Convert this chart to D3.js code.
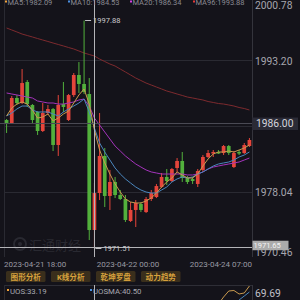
<!DOCTYPE html>
<html>
<head>
<meta charset="utf-8">
<script src="https://cdn.jsdelivr.net/npm/d3@7"></script>
<style>
html, body { margin: 0; padding: 0; background: #14131a; }
svg { display: block; }
text { font-family: "Roboto", "Noto Sans", "Noto Sans CJK SC", sans-serif; }
</style>
</head>
<body>
<script>
// K线数据 (开 高 低 收)
var opens = [1986.37, 1986.02, 1988.92, 1988.34, 1990.77, 1988.11, 1987.30, 1985.10, 1987.18, 1987.64,
  1983.48, 1988.22, 1986.37, 1989.26, 1991.58, 1990.54, 1989.38, 1973.64, 1977.92, 1982.21,
  1977.58, 1979.20, 1977.69, 1977.23, 1974.68, 1975.96, 1976.65, 1975.72, 1977.23, 1977.46,
  1978.62, 1979.78, 1979.31, 1980.82, 1981.63, 1979.66, 1979.54, 1978.97, 1980.59, 1982.09,
  1982.49, 1982.67, 1982.55, 1983.36, 1980.93, 1982.67, 1982.55, 1983.36];
var highs = [1986.49, 1989.15, 1989.26, 1992.27, 1991.00, 1988.22, 1987.41, 1988.34, 1988.11, 1987.76,
  1989.26, 1990.77, 1989.38, 1991.81, 1993.08, 1997.88, 1991.23, 1979.08, 1987.18, 1983.13,
  1980.59, 1979.78, 1978.27, 1977.69, 1976.88, 1977.11, 1976.88, 1977.46, 1978.27, 1978.97,
  1980.24, 1980.70, 1980.82, 1981.97, 1982.67, 1979.89, 1979.78, 1980.70, 1982.32, 1982.90,
  1982.90, 1982.90, 1983.48, 1983.48, 1982.78, 1982.90, 1983.71, 1984.29];
var lows = [1984.87, 1985.91, 1988.11, 1988.22, 1987.88, 1986.02, 1984.64, 1984.98, 1986.95, 1982.78,
  1982.21, 1987.30, 1986.26, 1989.03, 1989.50, 1989.38, 1972.48, 1971.51, 1977.11, 1976.30,
  1975.96, 1977.34, 1977.11, 1974.57, 1974.57, 1973.99, 1975.72, 1975.61, 1977.00, 1977.34,
  1978.50, 1978.85, 1979.20, 1980.35, 1979.20, 1978.97, 1978.97, 1978.62, 1980.35, 1981.97,
  1982.09, 1982.44, 1982.32, 1982.32, 1980.82, 1982.32, 1982.44, 1983.25];
var closes = [1986.02, 1988.92, 1988.34, 1990.65, 1988.22, 1986.37, 1985.10, 1987.18, 1987.64, 1983.48,
  1988.11, 1987.88, 1989.26, 1991.58, 1990.54, 1989.61, 1973.64, 1977.92, 1982.21, 1977.58,
  1979.20, 1977.69, 1977.23, 1974.80, 1975.96, 1976.77, 1975.96, 1977.23, 1977.92, 1978.73,
  1979.78, 1979.31, 1980.70, 1981.63, 1979.66, 1979.20, 1979.31, 1980.47, 1982.09, 1982.55,
  1982.67, 1982.49, 1983.36, 1982.55, 1982.55, 1982.49, 1983.48, 1984.06];

// 均线
var ma5 = [1986.84, 1987.76, 1988.22, 1988.46, 1988.22, 1987.53, 1986.60, 1986.72, 1987.07, 1986.26,
  1986.60, 1987.07, 1987.41, 1988.34, 1989.27, 1989.96, 1988.22, 1985.22, 1982.90, 1981.40,
  1980.12, 1978.97, 1978.04, 1977.23, 1976.88, 1976.77, 1976.77, 1977.00, 1977.35, 1977.92,
  1978.62, 1979.20, 1979.66, 1980.36, 1980.01, 1979.66, 1979.66, 1980.12, 1981.05, 1981.86,
  1982.44, 1982.67, 1982.67, 1982.79, 1982.67, 1982.90, 1983.13, 1983.48];
var ma10 = [1986.84, 1987.18, 1987.65, 1987.99, 1987.99, 1987.53, 1987.30, 1987.30, 1987.30, 1987.07,
  1986.84, 1987.30, 1987.65, 1987.99, 1988.34, 1988.80, 1987.30, 1985.45, 1983.71, 1982.67,
  1981.74, 1980.82, 1980.12, 1979.55, 1979.08, 1978.62, 1978.27, 1978.04, 1977.92, 1977.92,
  1978.27, 1978.62, 1979.20, 1979.55, 1979.78, 1979.66, 1979.78, 1980.12, 1980.36, 1980.70,
  1981.05, 1981.28, 1981.40, 1981.51, 1981.74, 1982.09, 1982.32, 1982.67];
var ma20 = [1989.50, 1989.38, 1989.27, 1989.15, 1989.03, 1988.92, 1988.57, 1988.46, 1988.34, 1988.34,
  1988.22, 1988.22, 1988.34, 1988.46, 1988.69, 1988.80, 1987.99, 1986.60, 1985.79, 1984.98,
  1984.17, 1983.36, 1982.79, 1982.21, 1981.74, 1981.28, 1980.93, 1980.59, 1980.36, 1980.24,
  1980.12, 1980.12, 1980.12, 1980.12, 1980.12, 1980.01, 1980.01, 1980.12, 1980.36, 1980.70,
  1980.93, 1981.05, 1981.17, 1981.28, 1981.40, 1981.51, 1981.74, 1981.97];
var ma96 = [1997.02, 1996.79, 1996.56, 1996.32, 1996.15, 1995.98, 1995.80, 1995.63, 1995.46, 1995.28,
  1995.11, 1994.94, 1994.76, 1994.59, 1994.36, 1994.13, 1993.95, 1993.78, 1993.43, 1993.14,
  1992.85, 1992.62, 1992.27, 1991.93, 1991.58, 1991.23, 1990.94, 1990.65, 1990.42, 1990.19,
  1989.96, 1989.73, 1989.56, 1989.38, 1989.21, 1989.03, 1988.92, 1988.80, 1988.69, 1988.51,
  1988.40, 1988.28, 1988.22, 1988.11, 1987.99, 1987.82, 1987.70, 1987.53];

// 副图 UOS (只看得到最后几根)
var uosTail = [53.96, 59.75, 64.72, 65.14, 62.24, 63.07, 68.86];
var uosmaTail = [52.30, 57.27, 60.58, 63.89];

var priceTicks = [2000.78, 1993.20, 1985.62, 1978.04, 1970.46];
var timeLabels = ["2023-04-21 18:00", "2023-04-22 00:00", "2023-04-24 07:00"];
var lastPrice = 1986.00;
var crossPrice = 1971.65;
var crossIndex = 17;
var maLegend = [["MA5:1982.09", "#f2a33a"], ["MA10:1984.53", "#4a90e2"], ["MA20:1986.34", "#d63ee0"], ["MA96:1993.88", "#e53935"]];
var uosLegend = [["UOS:33.19", "#f2a33a"], ["UOSMA:40.50", "#4a90e2"]];
var buttons = ["图形分析", "K线分析", "乾坤罗盘", "动力趋势"];
var uosMax = 69.69;

var W = 300, H = 300;
var UP = "#e5453b", DOWN = "#52b03c";

var svg = d3.select("body").append("svg").attr("width", W).attr("height", H);
svg.append("rect").attr("width", W).attr("height", H).attr("fill", "#14131a");

var x = d3.scaleBand().domain(d3.range(closes.length)).range([4, 252]).paddingInner(0.28).paddingOuter(0.14);
var y = d3.scaleLinear().domain([priceTicks[4], priceTicks[0]]).range([257.5, -4.5]);
var cx = function(i) { return x(i) + x.bandwidth() / 2; };
var crisp = function(v) { return Math.round(v - 0.5) + 0.5; };

// 网格
svg.selectAll(".grid").data(priceTicks.slice(1, 4)).enter().append("line")
  .attr("x1", 4).attr("x2", 252)
  .attr("y1", function(d) { return crisp(y(d)); }).attr("y2", function(d) { return crisp(y(d)); })
  .attr("stroke", "#2a2a32");
svg.append("line").attr("x1", 4.5).attr("x2", 4.5).attr("y1", 0).attr("y2", 257).attr("stroke", "#2a2a32");
svg.append("line").attr("x1", 252.5).attr("x2", 252.5).attr("y1", 0).attr("y2", 257).attr("stroke", "#34343c");

// 水印
var wm = svg.append("g").attr("opacity", 0.9);
wm.append("circle").attr("cx", 20).attr("cy", 244).attr("r", 6).attr("fill", "none").attr("stroke", "#2c2c34").attr("stroke-width", 2);
wm.append("circle").attr("cx", 20).attr("cy", 244).attr("r", 2).attr("fill", "#2c2c34");
wm.append("text").attr("x", 29).attr("y", 249.5).attr("font-size", 13).attr("fill", "#2c2c34").text("汇通财经");

var line = function(arr) {
  return d3.line().x(function(d, i) { return cx(i); }).y(function(d) { return y(d); })(arr);
};
svg.append("path").attr("d", line(ma96)).attr("fill", "none").attr("stroke", "#7d2a2e").attr("stroke-width", 1);

// K线
var candles = svg.selectAll(".k").data(closes).enter().append("g");
candles.append("line")
  .attr("x1", function(d, i) { return cx(i); }).attr("x2", function(d, i) { return cx(i); })
  .attr("y1", function(d, i) { return y(highs[i]); }).attr("y2", function(d, i) { return y(lows[i]); })
  .attr("stroke", function(d, i) { return d >= opens[i] ? UP : DOWN; }).attr("stroke-width", 1);
candles.append("rect")
  .attr("x", function(d, i) { return x(i); })
  .attr("width", x.bandwidth())
  .attr("y", function(d, i) { return y(Math.max(d, opens[i])); })
  .attr("height", function(d, i) { return Math.max(1, Math.abs(y(d) - y(opens[i]))); })
  .attr("fill", function(d, i) { return d >= opens[i] ? UP : DOWN; });

svg.append("path").attr("d", line(ma20)).attr("fill", "none").attr("stroke", "#a433bb").attr("stroke-width", 1);
svg.append("path").attr("d", line(ma10)).attr("fill", "none").attr("stroke", "#4a86bd").attr("stroke-width", 1);
svg.append("path").attr("d", line(ma5)).attr("fill", "none").attr("stroke", "#c99a4e").attr("stroke-width", 1);

// 现价线
svg.append("line").attr("x1", 0).attr("x2", 252).attr("y1", crisp(y(lastPrice))).attr("y2", crisp(y(lastPrice)))
  .attr("stroke", "#4a4a54");

// 十字光标
var crossX = crisp(cx(crossIndex));
svg.append("line").attr("x1", crossX).attr("x2", crossX).attr("y1", 0).attr("y2", 257).attr("stroke", "#b4b4b8");
svg.append("line").attr("x1", 0).attr("x2", 252).attr("y1", crisp(y(crossPrice))).attr("y2", crisp(y(crossPrice))).attr("stroke", "#b4b4b8");

// 最高 / 最低 标记
var hiIdx = d3.maxIndex(highs), loIdx = d3.minIndex(lows);
[[hiIdx, highs[hiIdx]], [loIdx, lows[loIdx]]].forEach(function(m) {
  var x0 = cx(m[0]) + 1, yy = crisp(y(m[1]));
  svg.append("line").attr("x1", x0).attr("x2", x0 + 6).attr("y1", yy).attr("y2", yy).attr("stroke", "#c0c0c4");
  svg.append("text").attr("x", x0 + 8).attr("y", yy + 2.7).attr("font-size", 7.5).attr("fill", "#c8c8cc").text(m[1].toFixed(2));
});

// 右侧价格轴 (中间刻度被现价框挡住)
var shownTicks = priceTicks.filter(function(d, i) { return i !== 2; });
svg.selectAll(".ptick").data(shownTicks).enter().append("text")
  .attr("x", 255)
  .attr("y", function(d) { return d === priceTicks[0] ? 8.5 : (d === priceTicks[4] ? 256 : y(d) + 3.7); })
  .attr("font-size", 10.3).attr("fill", "#a6a6ae")
  .text(function(d) { return d.toFixed(2); });

svg.append("rect").attr("x", 252).attr("y", y(lastPrice) - 5.7).attr("width", 46).attr("height", 12.5).attr("fill", "#2b2b36");
svg.append("text").attr("x", 256).attr("y", y(lastPrice) + 3.7).attr("font-size", 10.3).attr("fill", "#d6d6de").text(lastPrice.toFixed(2));

svg.append("rect").attr("x", 252.5).attr("y", y(crossPrice) - 6.5).attr("width", 36).attr("height", 9.5).attr("fill", "#ababab");
svg.append("text").attr("x", 253.5).attr("y", y(crossPrice) + 1).attr("font-size", 7.5).attr("fill", "#f4f4f4").text(crossPrice.toFixed(2));

// 顶部均线图例
var lx = [5, 68, 130, 193];
maLegend.forEach(function(m, i) {
  svg.append("rect").attr("x", lx[i]).attr("y", 0.5).attr("width", 2).attr("height", 2).attr("fill", m[1]);
  svg.append("text").attr("x", lx[i] + 2.5).attr("y", 4.5).attr("font-size", 7.5).attr("fill", "#8a8a92").text(m[0]);
});

// 时间轴
svg.selectAll(".tl").data(timeLabels).enter().append("text")
  .attr("x", function(d, i) { return [4, 128, 252][i]; })
  .attr("y", 266.5)
  .attr("text-anchor", function(d, i) { return ["start", "middle", "end"][i]; })
  .attr("font-size", 8).attr("fill", "#9a9aa2")
  .text(function(d) { return d; });

// 按钮
var bx = [6, 51, 96, 141];
buttons.forEach(function(b, i) {
  svg.append("rect").attr("x", bx[i]).attr("y", 271).attr("width", 39.5).attr("height", 11).attr("rx", 1.5).attr("fill", "#3a2f1c");
  svg.append("text").attr("x", bx[i] + 19.75).attr("y", 279.6).attr("text-anchor", "middle")
    .attr("font-size", 7.6).attr("font-weight", "bold").attr("fill", "#d6a13c").text(b);
});

// 副图
svg.append("line").attr("x1", 4).attr("x2", 252).attr("y1", 285.5).attr("y2", 285.5).attr("stroke", "#2e2e36");
svg.append("line").attr("x1", 4.5).attr("x2", 4.5).attr("y1", 285).attr("y2", 300).attr("stroke", "#2a2a32");
svg.append("line").attr("x1", 252.5).attr("x2", 252.5).attr("y1", 285).attr("y2", 300).attr("stroke", "#34343c");
svg.append("line").attr("x1", crossX).attr("x2", crossX).attr("y1", 285).attr("y2", 300).attr("stroke", "#b4b4b8");

var yu = d3.scaleLinear().domain([20, uosMax]).range([345, 285]);
var n = closes.length;
var tailLine = function(arr) {
  var off = n - arr.length;
  return d3.line().x(function(d, i) { return cx(off + i); }).y(function(d) { return yu(d); })(arr);
};
svg.append("path").attr("d", tailLine(uosTail)).attr("fill", "none").attr("stroke", "#c99a4e").attr("stroke-width", 1);
svg.append("path").attr("d", tailLine(uosmaTail)).attr("fill", "none").attr("stroke", "#4a86bd").attr("stroke-width", 1);

var ux = [7, 90];
uosLegend.forEach(function(m, i) {
  svg.append("rect").attr("x", ux[i]).attr("y", 289).attr("width", 2).attr("height", 2).attr("fill", m[1]);
  svg.append("text").attr("x", ux[i] + 3).attr("y", 293.5).attr("font-size", 7.8).attr("fill", "#a8a8b0").text(m[0]);
});
svg.append("text").attr("x", 255).attr("y", 297).attr("font-size", 10.3).attr("fill", "#c0c0c8").text(uosMax.toFixed(2));
</script>
</body>
</html>
